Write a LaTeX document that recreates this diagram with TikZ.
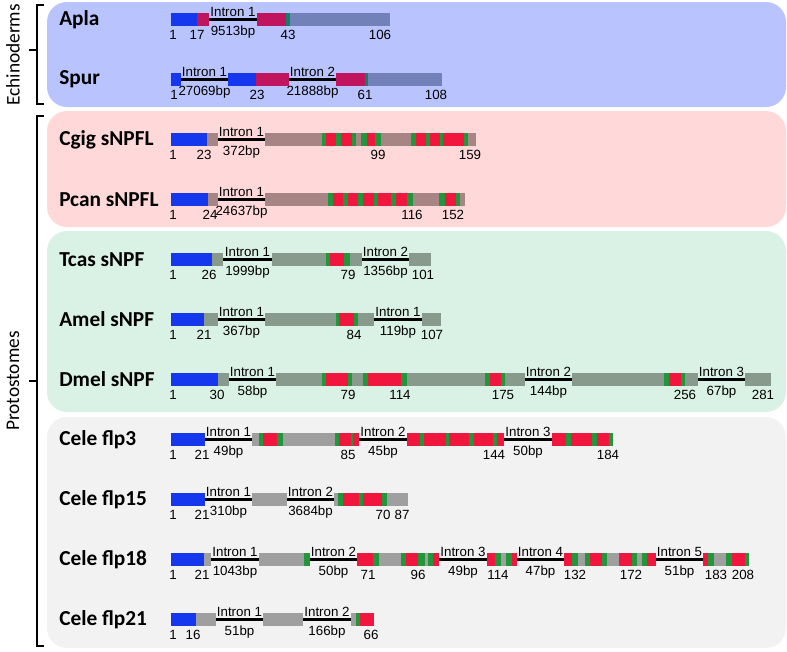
\documentclass[tikz,border=0pt]{standalone}
\usepackage{fontspec}
\setmainfont{Liberation Sans}
\newfontfamily\calibri{Carlito}
\usepackage{xcolor}
\usepackage{tikz}

\definecolor{pblue}{HTML}{B9C4FE}
\definecolor{ppink}{HTML}{FFD9D9}
\definecolor{pgreen}{HTML}{DAF2E5}
\definecolor{pgray}{HTML}{F2F2F2}
\definecolor{exblue}{HTML}{1538EE}
\definecolor{exmag}{HTML}{C0145E}
\definecolor{exslate}{HTML}{7282B9}
\definecolor{exteal}{HTML}{128067}
\definecolor{exmauve}{HTML}{A88585}
\definecolor{exred}{HTML}{F0163E}
\definecolor{exgreen}{HTML}{22963A}
\definecolor{exgg}{HTML}{879A8B}
\definecolor{exgray}{HTML}{9F9F9F}

\tikzset{
  panel/.style={rounded corners=15pt},
  brace/.style={line width=2pt, black},
  intronline/.style={line width=1.9pt, black},
  lbl/.style={font=\fontsize{10}{11}\selectfont, inner sep=0pt, anchor=base},
  species/.style={font=\calibri\bfseries\fontsize{16}{18}\selectfont, inner sep=0pt, anchor=west},
  group/.style={font=\calibri\fontsize{14.5}{16}\selectfont, inner sep=0pt}
}

% exon blocks of one row: #1 centre y, #2 list x1/x2/colour
\newcommand{\exons}[2]{\foreach \a/\b/\c in {#2} \fill[\c] (\a,#1-6.5) rectangle (\b,#1+6.5);}
% intron: #1 name, #2 y, #3 x1, #4 x2, #5 label, #6 length
\newcommand{\intr}[6]{%
  \coordinate (#1-a) at (#3,#2);
  \coordinate (#1-b) at (#4,#2);
  \draw[intronline] (#1-a) -- (#1-b);
  \node[lbl] (#1-t) at ({(#3+#4)/2},#2-3.5) {#5};
  \node[lbl] (#1-l) at ({(#3+#4)/2},#2+16) {#6};}

\begin{document}
\begin{tikzpicture}[x=0.75pt,y=-0.75pt]
\useasboundingbox (0,0) rectangle (787,651);
% background panels
\fill[pblue,panel] (47,2) rectangle (786,107);
\fill[ppink,panel] (47,111) rectangle (786,227);
\fill[pgreen,panel] (47,231) rectangle (786,412);
\fill[pgray,panel] (47,417) rectangle (786,648);
% groups
\draw[brace] (44,5) -- (37,5) -- (37,104) -- (44,104);
\draw[brace] (37,50) -- (29,50);
\node[group,rotate=90] (echino) at (13,55) {Echinoderms};
\draw[brace] (44,116) -- (37,116) -- (37,646) -- (44,646);
\draw[brace] (37,381) -- (29,381);
\node[group,rotate=90] (proto) at (13,381) {Protostomes};

% Apla
\node[species] (apla) at (59,19.5) {Apla};
\intr{apla-i1}{19.5}{209}{257}{Intron 1}{9513bp}
\exons{19.5}{171/197/exblue,197/209/exmag,257/286/exmag,286/290/exteal,290/390/exslate}
\foreach \x/\t [count=\i] in {173/1,197/17,288/43,380/106}
  \node[lbl] (apla-n\i) at (\x,19.5+20) {\t};

% Spur
\node[species] (spur) at (59,79.5) {Spur};
\intr{spur-i1}{79.5}{181}{228}{Intron 1}{27069bp}
\intr{spur-i2}{79.5}{289}{336}{Intron 2}{21888bp}
\exons{79.5}{171/181/exblue,228/256/exblue,256/289/exmag,336/365/exmag,365/368/exteal,368/442/exslate}
\foreach \x/\t [count=\i] in {174/1,257/23,365/61,436/108}
  \node[lbl] (spur-n\i) at (\x,79.5+20) {\t};

% Cgig sNPFL
\node[species] (cgig) at (59,139.5) {Cgig sNPFL};
\intr{cgig-i1}{139.5}{218}{265}{Intron 1}{372bp}
\exons{139.5}{171/207/exblue,207/218/exmauve,265/322/exmauve,322/326/exgreen,326/336/exred,336/341/exgreen,341/352/exred,352/356/exgreen,356/361/exmauve,361/367/exgreen,367/375/exred,375/381/exgreen,381/411/exmauve,411/416/exgreen,416/426/exred,426/430/exgreen,430/440/exred,440/443/exgreen,443/464/exred,464/468/exgreen,468/476/exmauve}
\foreach \x/\t [count=\i] in {173/1,204/23,378/99,470/159}
  \node[lbl] (cgig-n\i) at (\x,139.5+20) {\t};

% Pcan sNPFL
\node[species] (pcan) at (59,199.5) {Pcan sNPFL};
\intr{pcan-i1}{199.5}{218}{265}{Intron 1}{24637bp}
\exons{199.5}{171/208/exblue,208/218/exmauve,265/328/exmauve,328/333/exgreen,333/343/exred,343/348/exgreen,348/358/exred,358/363/exgreen,363/374/exred,374/378/exgreen,378/391/exred,391/396/exgreen,396/407/exred,407/413/exgreen,413/439/exmauve,439/445/exgreen,445/456/exred,456/460/exgreen,460/465/exmauve}
\foreach \x/\t [count=\i] in {173/1,210/24,412/116,453/152}
  \node[lbl] (pcan-n\i) at (\x,199.5+20) {\t};

% Tcas sNPF
\node[species] (tcas) at (59,259.5) {Tcas sNPF};
\intr{tcas-i1}{259.5}{223}{272}{Intron 1}{1999bp}
\intr{tcas-i2}{259.5}{362}{409}{Intron 2}{1356bp}
\exons{259.5}{171/212/exblue,212/223/exgg,272/326/exgg,326/330/exgreen,330/344/exred,344/350/exgreen,350/362/exgg,409/431/exgg}
\foreach \x/\t [count=\i] in {173/1,209/26,348/79,423/101}
  \node[lbl] (tcas-n\i) at (\x,259.5+20) {\t};

% Amel sNPF
\node[species] (amel) at (59,319.5) {Amel sNPF};
\intr{amel-i1}{319.5}{218}{265}{Intron 1}{367bp}
\intr{amel-i2}{319.5}{374}{422}{Intron 1}{119bp}
\exons{319.5}{171/204/exblue,204/218/exgg,265/336/exgg,336/339/exgreen,339/354/exred,354/358/exgreen,358/374/exgg,422/441/exgg}
\foreach \x/\t [count=\i] in {173/1,204/21,354/84,432/107}
  \node[lbl] (amel-n\i) at (\x,319.5+20) {\t};

% Dmel sNPF
\node[species] (dmel) at (59,379.5) {Dmel sNPF};
\intr{dmel-i1}{379.5}{229}{276}{Intron 1}{58bp}
\intr{dmel-i2}{379.5}{525}{572}{Intron 2}{144bp}
\intr{dmel-i3}{379.5}{698}{745}{Intron 3}{67bp}
\exons{379.5}{171/218/exblue,218/229/exgg,276/322/exgg,322/326/exgreen,326/348/exred,348/352/exgreen,352/363/exgg,363/368/exgreen,368/401/exred,401/407/exgreen,407/485/exgg,485/490/exgreen,490/501/exred,501/505/exgreen,505/525/exgg,572/664/exgg,664/669/exgreen,669/681/exred,681/685/exgreen,685/698/exgg,745/771/exgg}
\foreach \x/\t [count=\i] in {173/1,217/30,348/79,400/114,503/175,685/256,763/281}
  \node[lbl] (dmel-n\i) at (\x,379.5+20) {\t};

% Cele flp3
\node[species] (flp3) at (59,439.5) {Cele flp3};
\intr{flp3-i1}{439.5}{205}{252}{Intron 1}{49bp}
\intr{flp3-i2}{439.5}{359}{407}{Intron 2}{45bp}
\intr{flp3-i3}{439.5}{504}{552}{Intron 3}{50bp}
\exons{439.5}{171/205/exblue,252/259/exgray,259/263/exgreen,263/277/exred,277/283/exgreen,283/335/exgray,335/339/exgreen,339/351/exred,351/353/exgreen,353/359/exred,407/420/exred,420/424/exgreen,424/446/exred,446/449/exgreen,449/469/exred,469/474/exgreen,474/493/exred,493/497/exgreen,497/504/exred,552/566/exred,566/571/exgreen,571/592/exred,592/597/exgreen,597/609/exred,609/613/exgreen}
\foreach \x/\t [count=\i] in {173/1,202/21,348/85,494/144,608/184}
  \node[lbl] (flp3-n\i) at (\x,439.5+20) {\t};

% Cele flp15
\node[species] (flp15) at (59,499.5) {Cele flp15};
\intr{flp15-i1}{499.5}{205}{252}{Intron 1}{310bp}
\intr{flp15-i2}{499.5}{287}{334}{Intron 2}{3684bp}
\exons{499.5}{171/205/exblue,252/287/exgray,334/338/exgray,338/343/exgreen,343/359/exred,359/363/exgreen,363/382/exred,382/387/exgreen,387/408/exgray}
\foreach \x/\t [count=\i] in {173/1,202/21,383/70,402/87}
  \node[lbl] (flp15-n\i) at (\x,499.5+20) {\t};

% Cele flp18
\node[species] (flp18) at (59,559.5) {Cele flp18};
\intr{flp18-i1}{559.5}{211}{259}{Intron 1}{1043bp}
\intr{flp18-i2}{559.5}{310}{357}{Intron 2}{50bp}
\intr{flp18-i3}{559.5}{439}{487}{Intron 3}{49bp}
\intr{flp18-i4}{559.5}{517}{564}{Intron 4}{47bp}
\intr{flp18-i5}{559.5}{656}{703}{Intron 5}{51bp}
\exons{559.5}{171/204/exblue,204/211/exgray,259/304/exgray,304/310/exgreen,357/373/exred,373/379/exgreen,379/401/exgray,401/406/exgreen,406/418/exred,418/425/exgreen,425/428/exgray,428/433/exgreen,433/439/exred,487/495/exred,495/501/exgreen,501/506/exgray,506/512/exgreen,512/517/exred,564/572/exred,572/578/exgreen,578/585/exgray,585/590/exgreen,590/602/exred,602/607/exgreen,607/619/exgray,619/632/exred,632/637/exgreen,637/642/exgray,642/647/exgreen,647/656/exred,703/708/exred,708/714/exgreen,714/726/exgray,726/732/exgreen,732/745/exred,745/749/exgreen}
\foreach \x/\t [count=\i] in {173/1,202/21,368/71,418/96,498/114,575/132,631/172,716/183,743/208}
  \node[lbl] (flp18-n\i) at (\x,559.5+20) {\t};

% Cele flp21
\node[species] (flp21) at (59,619.5) {Cele flp21};
\intr{flp21-i1}{619.5}{216}{263}{Intron 1}{51bp}
\intr{flp21-i2}{619.5}{303}{351}{Intron 2}{166bp}
\exons{619.5}{171/196/exblue,196/216/exgray,263/303/exgray,351/356/exgray,356/360/exgreen,360/374/exred}
\foreach \x/\t [count=\i] in {173/1,193/16,371/66}
  \node[lbl] (flp21-n\i) at (\x,619.5+20) {\t};
\end{tikzpicture}
\end{document}
